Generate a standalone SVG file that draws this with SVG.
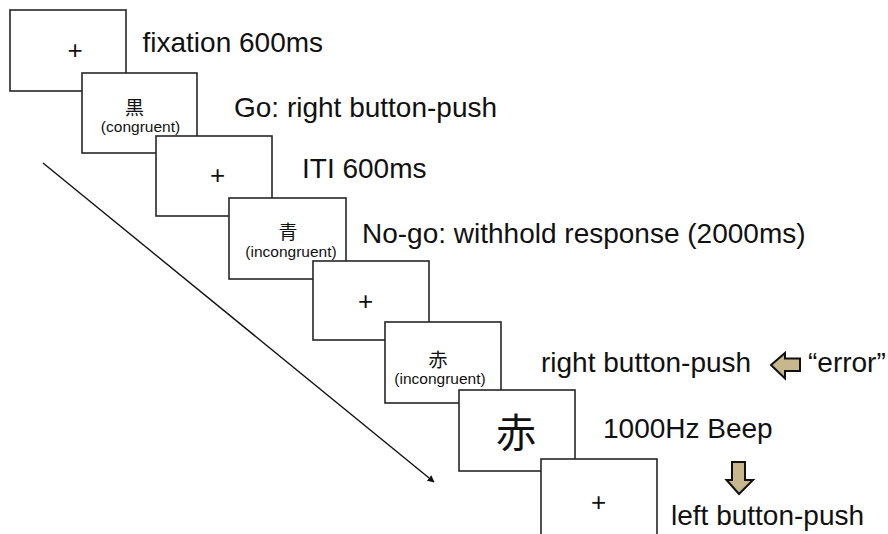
<svg xmlns="http://www.w3.org/2000/svg" width="888" height="534" viewBox="0 0 888 534">
  <defs>
    <style>
      .screen { fill: #ffffff; stroke: #262626; stroke-width: 1.6; }
      .lbl { font-family: "Liberation Sans", Arial, sans-serif; font-size: 28px; fill: #111111; }
      .cross { font-family: "Liberation Sans", Arial, sans-serif; font-size: 26px; fill: #111111; text-anchor: middle; }
      .kanji { font-family: "Noto Sans CJK JP", "Noto Sans CJK SC", sans-serif; font-size: 19px; fill: #111111; text-anchor: middle; }
      .cond { font-family: "Liberation Sans", Arial, sans-serif; font-size: 15.5px; fill: #111111; text-anchor: middle; }
      .hint { fill: #c6b78d; stroke: #111111; stroke-width: 2; stroke-linejoin: miter; }
      .time { stroke: #111111; stroke-width: 1.4; fill: none; }
    </style>
    <marker id="tip" viewBox="0 0 10 10" refX="9" refY="5" markerWidth="7" markerHeight="7" orient="auto" markerUnits="userSpaceOnUse">
      <path d="M0,0 L10,5 L0,10 Z" fill="#111111"/>
    </marker>
  </defs>

  <!-- time axis -->
  <g id="connectors">
    <line class="time" x1="43" y1="163" x2="434" y2="482" marker-end="url(#tip)"/>
  </g>

  <!-- trial screens, later screens drawn on top -->
  <g id="s1-fixation">
    <rect class="screen" x="10" y="10" width="116" height="81"/>
    <text class="cross" x="75" y="59">+</text>
  </g>
  <g id="s2-go">
    <rect class="screen" x="82" y="73" width="115" height="80"/>
    <text class="kanji" x="134.5" y="115">黒</text>
    <text class="cond" x="140.5" y="132">(congruent)</text>
  </g>
  <g id="s3-iti">
    <rect class="screen" x="156" y="136" width="116" height="80"/>
    <text class="cross" x="217.5" y="184">+</text>
  </g>
  <g id="s4-nogo">
    <rect class="screen" x="229" y="198" width="117" height="81"/>
    <text class="kanji" x="288" y="239">青</text>
    <text class="cond" x="291" y="256.5">(incongruent)</text>
  </g>
  <g id="s5-iti">
    <rect class="screen" x="313" y="261" width="116" height="79"/>
    <text class="cross" x="365.5" y="310">+</text>
  </g>
  <g id="s6-nogo-error">
    <rect class="screen" x="385" y="322" width="116" height="81"/>
    <text class="kanji" x="438" y="366.5">赤</text>
    <text class="cond" x="440" y="383.5">(incongruent)</text>
  </g>
  <g id="s7-beep">
    <rect class="screen" x="459" y="390" width="116" height="81"/>
    <text class="kanji" x="516" y="447" style="font-size:40px">赤</text>
  </g>
  <g id="s8-response">
    <rect class="screen" x="541" y="459" width="116" height="81"/>
    <text class="cross" x="598.5" y="511">+</text>
  </g>

  <!-- labels -->
  <g id="labels">
    <text class="lbl" x="142.5" y="52">fixation 600ms</text>
    <text class="lbl" x="234" y="117">Go: right button-push</text>
    <text class="lbl" x="302" y="178">ITI 600ms</text>
    <text class="lbl" x="362" y="243">No-go: withhold response (2000ms)</text>
    <text class="lbl" x="541" y="372">right button-push</text>
    <text class="lbl" x="808" y="372">“error”</text>
    <text class="lbl" x="603" y="438">1000Hz Beep</text>
    <text class="lbl" x="671" y="525">left button-push</text>
  </g>

  <!-- block arrows -->
  <g id="arrow-error">
    <path class="hint" d="M771,365 L785,353 L785,358.5 L800,358.5 L800,371 L785,371 L785,378.5 Z"/>
  </g>
  <g id="arrow-beep">
    <path class="hint" d="M732,462 L745,462 L745,480 L753,480 L739,494 L726.5,480 L732,480 Z"/>
  </g>
</svg>
